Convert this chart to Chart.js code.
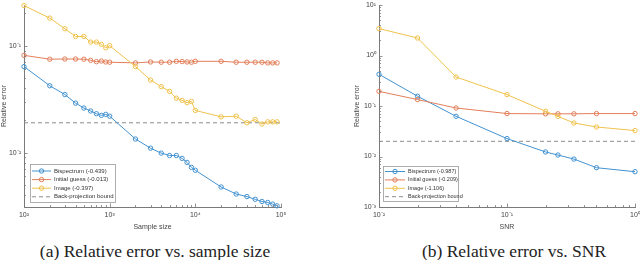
<!DOCTYPE html>
<html>
<head>
<meta charset="utf-8">
<script src="https://cdn.jsdelivr.net/npm/chart.js@4.4.1/dist/chart.umd.min.js"></script>
<style>
  body { margin: 0; background: #fff; width: 640px; height: 260px; overflow: hidden; position: relative; }
  canvas { position: absolute; top: 0; }
  .cap { position: absolute; top: 241px; font-family: "Liberation Serif", "DejaVu Serif", serif; font-size: 17.5px; color: #222; white-space: nowrap; transform: translateX(-50%); line-height: 21px; }
</style>
</head>
<body>
<canvas id="c1" width="320" height="240" style="left:0"></canvas>
<canvas id="c2" width="320" height="240" style="left:320px"></canvas>
<div class="cap" style="left:155px">(a) Relative error vs. sample size</div>
<div class="cap" style="left:514px">(b) Relative error vs. SNR</div>
<script>
// (a) error vs sample size
const sampleSizes = [100, 200, 300, 400, 500, 600, 700, 800, 900,
  1000, 2000, 3000, 4000, 5000, 6000, 7000, 8000, 9000,
  10000, 20000, 30000, 40000, 50000, 60000, 70000, 80000, 90000];
const bispecA = [0.0637, 0.0422, 0.0349, 0.0290, 0.0261, 0.0245, 0.0231, 0.0223, 0.0228,
  0.0219, 0.0134, 0.0110, 0.00989, 0.0094, 0.0094, 0.00883, 0.0081, 0.00728,
  0.00684, 0.00477, 0.00410, 0.00388, 0.00366, 0.00349, 0.00342, 0.00330, 0.00318];
const initA = [0.0812, 0.0747, 0.075, 0.075, 0.0747, 0.0730, 0.0708, 0.0719, 0.0704,
  0.0700, 0.0690, 0.0704, 0.0700, 0.0700, 0.0714, 0.0710, 0.0704, 0.0700,
  0.0714, 0.0714, 0.0700, 0.0700, 0.0700, 0.0700, 0.0690, 0.0690, 0.0690];
const imageA = [0.237, 0.181, 0.144, 0.122, 0.122, 0.108, 0.108, 0.103, 0.0955,
  0.100, 0.0637, 0.0477, 0.0414, 0.0374, 0.0323, 0.0308, 0.0293, 0.0301,
  0.0248, 0.0216, 0.0219, 0.0190, 0.0204, 0.0185, 0.0194, 0.0194, 0.0194];
const boundA = 0.019;
const labelsA = ["Bispectrum (-0.439)", "Initial guess (-0.013)", "Image (-0.397)", "Back-projection bound"];

// (b) error vs SNR
const snr = [0.01, 0.02, 0.04, 0.1, 0.2, 0.25, 1 / 3, 0.5, 1];
const bispecB = [0.425, 0.156, 0.0625, 0.0226, 0.0123, 0.0107, 0.0089, 0.0060, 0.0050];
const initB = [0.195, 0.134, 0.0913, 0.0708, 0.0700, 0.0700, 0.0700, 0.0708, 0.0708];
const imageB = [3.41, 2.22, 0.375, 0.168, 0.0786, 0.0625, 0.046, 0.0384, 0.0326];
const boundB = 0.02;
const labelsB = ["Bispectrum (-0.987)", "Initial guess (-0.209)", "Image (-1.106)", "Back-projection bound"];

const colors = ["#4392d0", "#e27f5a", "#f0c24c"];
const axisColor = "#7a7a7a";
const textColor = "#444";
const sansFont = "'Liberation Sans', Arial, sans-serif";

const sup = { "-": "⁻", "0": "⁰", "1": "¹", "2": "²", "3": "³", "4": "⁴", "5": "⁵" };
function powLabel(v) {
  const e = Math.log10(v);
  const r = Math.round(e);
  if (Math.abs(e - r) > 1e-6) return "";
  return "10" + String(r).split("").map(c => sup[c]).join("");
}

function pts(xs, ys) {
  return xs.map((x, i) => ({ x: x, y: ys[i] }));
}

function series(label, xs, ys, color, order) {
  return {
    label: label,
    data: pts(xs, ys),
    borderColor: color,
    backgroundColor: "rgba(255,255,255,0)",
    borderWidth: 1,
    pointRadius: 2.2,
    pointBorderWidth: 1,
    pointBackgroundColor: "rgba(255,255,255,0)",
    pointBorderColor: color,
    tension: 0,
    clip: false,
    order: order,
  };
}

// MATLAB style ticks pointing into the axes
const inTicks = {
  id: "inTicks",
  afterDraw(chart) {
    const { ctx, chartArea: a, scales } = chart;
    ctx.save();
    ctx.strokeStyle = axisColor;
    ctx.lineWidth = 0.8;
    ctx.beginPath();
    for (const id of ["x", "y"]) {
      const s = scales[id];
      const k0 = Math.floor(Math.log10(s.min));
      const k1 = Math.ceil(Math.log10(s.max));
      for (let k = k0; k <= k1; k++) {
        for (let m = 1; m <= 9; m++) {
          const v = m * Math.pow(10, k);
          if (v < s.min * 0.999 || v > s.max * 1.001) continue;
          const p = Math.round(s.getPixelForValue(v)) + 0.5;
          const len = m === 1 ? 3.5 : 2;
          if (id === "x") {
            ctx.moveTo(p, a.bottom);
            ctx.lineTo(p, a.bottom - len);
          } else {
            ctx.moveTo(a.left, p);
            ctx.lineTo(a.left + len, p);
          }
        }
      }
    }
    ctx.stroke();
    ctx.restore();
  },
};

// legend box drawn inside the axes, bottom left
const boxLegend = {
  id: "boxLegend",
  afterDraw(chart, args, o) {
    const { ctx } = chart;
    ctx.save();
    ctx.fillStyle = "#fff";
    ctx.fillRect(o.x, o.y, o.w, o.h);
    ctx.strokeStyle = "#9a9a9a";
    ctx.lineWidth = 0.8;
    ctx.strokeRect(o.x + 0.5, o.y + 0.5, o.w, o.h);
    ctx.font = o.size + "px " + sansFont;
    ctx.textBaseline = "middle";
    ctx.fillStyle = "#333";
    chart.data.datasets.forEach((ds, i) => {
      const yy = o.y + o.first + i * o.step;
      ctx.strokeStyle = ds.borderColor;
      ctx.lineWidth = 1;
      ctx.setLineDash(ds.borderDash || []);
      ctx.beginPath();
      ctx.moveTo(o.x + 2, yy);
      ctx.lineTo(o.x + 2 + o.line, yy);
      ctx.stroke();
      ctx.setLineDash([]);
      if (!ds.borderDash) {
        ctx.beginPath();
        ctx.arc(o.x + 2 + o.line / 2, yy, 2.2, 0, Math.PI * 2);
        ctx.stroke();
      }
      ctx.fillText(ds.label, o.x + o.line + 5, yy);
    });
    ctx.restore();
  },
};

function makeChart(id, cfg) {
  const data = {
    datasets: [
      series(cfg.labels[0], cfg.xs, cfg.b, colors[0], 3),
      series(cfg.labels[1], cfg.xs, cfg.i, colors[1], 2),
      series(cfg.labels[2], cfg.xs, cfg.im, colors[2], 1),
      {
        label: cfg.labels[3],
        data: [{ x: cfg.xmin, y: cfg.bound }, { x: cfg.xmax, y: cfg.bound }],
        borderColor: "#8c8c8c",
        borderWidth: 1,
        borderDash: [4, 3],
        pointRadius: 0,
        order: 4,
      },
    ],
  };
  return new Chart(document.getElementById(id), {
    type: "line",
    data: data,
    options: {
      responsive: false,
      animation: false,
      devicePixelRatio: 1,
      layout: { padding: cfg.pad },
      plugins: {
        legend: { display: false },
        tooltip: { enabled: false },
        boxLegend: cfg.legend,
      },
      scales: {
        x: {
          type: "logarithmic",
          min: cfg.xmin,
          max: cfg.xmax,
          grid: { display: false, drawTicks: false },
          border: { display: true, color: axisColor, width: 1 },
          ticks: {
            autoSkip: false,
            maxRotation: 0,
            padding: 4,
            color: textColor,
            font: { family: sansFont, size: 7 },
            callback: v => powLabel(v),
          },
          title: {
            display: true,
            text: cfg.xtitle,
            color: textColor,
            font: { family: sansFont, size: 7 },
            padding: { top: 0, bottom: 9 },
          },
          afterFit: s => {
            s.height = 240 - cfg.bottom;
            s.paddingLeft = 0;
            s.paddingRight = 0;
          },
        },
        y: {
          type: "logarithmic",
          min: cfg.ymin,
          max: cfg.ymax,
          grid: { display: false, drawTicks: false },
          border: { display: true, color: axisColor, width: 1 },
          ticks: {
            autoSkip: false,
            padding: 3,
            color: textColor,
            font: { family: sansFont, size: 7 },
            callback: v => powLabel(v),
          },
          title: {
            display: true,
            text: "Relative error",
            color: textColor,
            font: { family: sansFont, size: 7 },
            padding: { top: cfg.ytitlePad, bottom: 0 },
          },
          afterFit: s => {
            s.width = cfg.left;
            s.paddingTop = 0;
            s.paddingBottom = 0;
          },
        },
      },
    },
    plugins: [inTicks, boxLegend],
  });
}

makeChart("c1", {
  xs: sampleSizes, b: bispecA, i: initA, im: imageA, bound: boundA, labels: labelsA,
  xmin: 100, xmax: 100000, ymin: 0.0031, ymax: 0.24,
  xtitle: "Sample size",
  pad: { left: 0, right: 39, top: 4, bottom: 0 },
  left: 24, bottom: 207, ytitlePad: 0,
  legend: { x: 30, y: 164, w: 85, h: 38, first: 7, step: 8.6, line: 19, size: 6 },
});

makeChart("c2", {
  xs: snr, b: bispecB, i: initB, im: imageB, bound: boundB, labels: labelsB,
  xmin: 0.01, xmax: 1, ymin: 0.001, ymax: 10,
  xtitle: "SNR",
  pad: { left: 0, right: 5, top: 5, bottom: 0 },
  left: 59, bottom: 207, ytitlePad: 33,
  legend: { x: 63, y: 166, w: 75, h: 35, first: 5.5, step: 8.4, line: 20, size: 5.5 },
});
</script>
</body>
</html>
